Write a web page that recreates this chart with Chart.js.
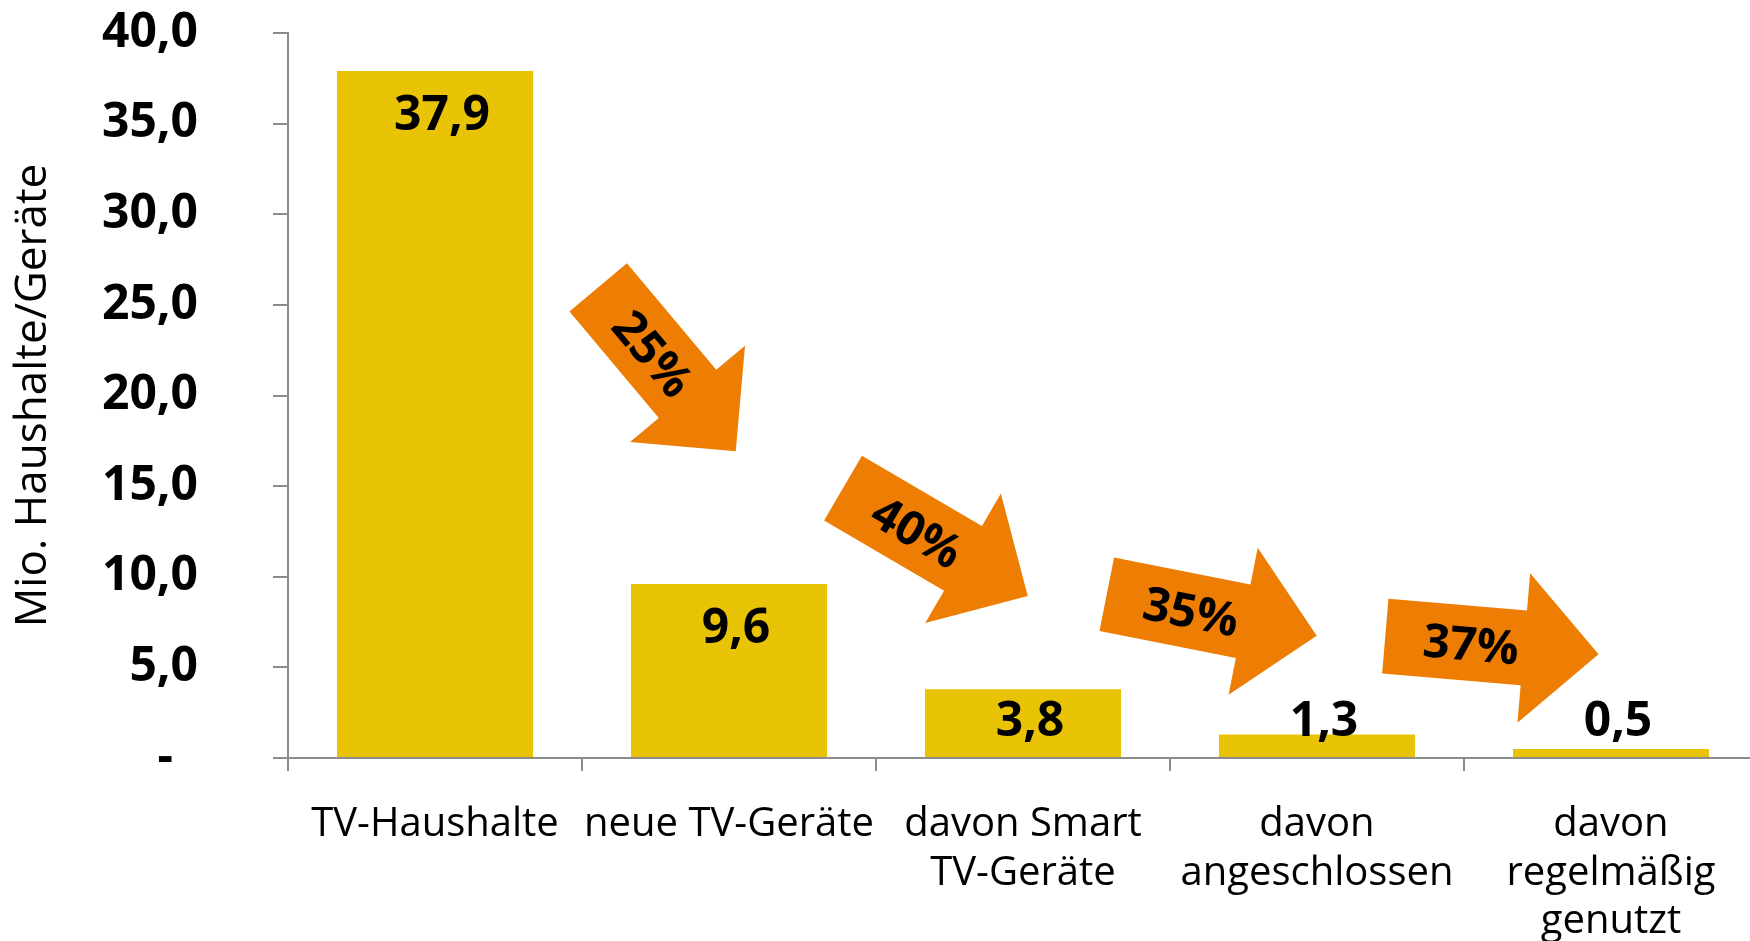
<!DOCTYPE html>
<html>
<head>
<meta charset="utf-8">
<script src="https://cdn.jsdelivr.net/npm/chart.js@4.4.1/dist/chart.umd.min.js"></script>
<style>
  html, body { margin: 0; padding: 0; background: #fff; overflow: hidden; }
  #wrap { width: 1758px; height: 941px; }
</style>
</head>
<body>
<div id="wrap"><canvas id="funnelChart"></canvas></div>
<script>
const categories = [
    ['TV-Haushalte'],
    ['neue TV-Geräte'],
    ['davon Smart', 'TV-Geräte'],
    ['davon', 'angeschlossen'],
    ['davon', 'regelmäßig', 'genutzt']
];
const values = [37.9, 9.6, 3.8, 1.3, 0.5];
const valueLabels = ['37,9', '9,6', '3,8', '1,3', '0,5'];
const yTickLabels = ['-  ', '5,0', '10,0', '15,0', '20,0', '25,0', '30,0', '35,0', '40,0'];
const shareLabels = ['25%', '40%', '35%', '37%'];

// where the orange arrows sit (x as category index, y in axis units) and their tilt
const arrowSpots = [
    { x: 0.789, y: 21.44, angle: 50.0 },
    { x: 1.702, y: 11.91, angle: 30.3 },
    { x: 2.642, y: 7.89, angle: 11.2 },
    { x: 3.595, y: 6.22, angle: 4.85 }
];

const FONT = '"Open Sans", "Noto Sans", sans-serif';

const barLabels = {
    id: 'barLabels',
    afterDatasetsDraw(chart) {
        const ctx = chart.ctx;
        const meta = chart.getDatasetMeta(0);
        ctx.save();
        ctx.font = 'bold 48px ' + FONT;
        ctx.fillStyle = '#000';
        ctx.textAlign = 'center';
        ctx.textBaseline = 'alphabetic';
        meta.data.forEach((bar, i) => {
            const y = Math.min(bar.y + 59, 736);
            ctx.fillText(valueLabels[i], bar.x + 7, y);
        });
        ctx.restore();
    }
};

const shareArrows = {
    id: 'shareArrows',
    afterDatasetsDraw(chart) {
        const ctx = chart.ctx;
        const xs = chart.scales.x;
        const ys = chart.scales.y;
        const half = 107, head = 75, shaft = 37.5, wing = 75;
        ctx.save();
        arrowSpots.forEach((a, i) => {
            const cx = xs.getPixelForValue(a.x);
            const cy = ys.getPixelForValue(a.y);
            ctx.save();
            ctx.translate(cx, cy);
            ctx.rotate(a.angle * Math.PI / 180);
            ctx.beginPath();
            ctx.moveTo(-half, -shaft);
            ctx.lineTo(half - head, -shaft);
            ctx.lineTo(half - head, -wing);
            ctx.lineTo(half, 0);
            ctx.lineTo(half - head, wing);
            ctx.lineTo(half - head, shaft);
            ctx.lineTo(-half, shaft);
            ctx.closePath();
            ctx.fillStyle = '#EE7D03';
            ctx.fill();
            ctx.font = 'bold 47px ' + FONT;
            ctx.fillStyle = '#000';
            ctx.textAlign = 'center';
            ctx.textBaseline = 'alphabetic';
            ctx.fillText(shareLabels[i], -21, 17);
            ctx.restore();
        });
        ctx.restore();
    }
};

new Chart(document.getElementById('funnelChart'), {
    type: 'bar',
    data: {
        labels: categories,
        datasets: [{
            data: values,
            backgroundColor: '#E9C406',
            barPercentage: 0.667,
            categoryPercentage: 1.0
        }]
    },
    options: {
        responsive: true,
        maintainAspectRatio: false,
        animation: false,
        layout: { padding: { top: 33, right: 0, bottom: 0, left: 0 } },
        scales: {
            y: {
                min: 0,
                max: 40,
                ticks: {
                    stepSize: 5,
                    color: '#000',
                    padding: 75,
                    font: { family: FONT, size: 48, weight: 'bold' },
                    callback: (v) => yTickLabels[Math.round(v / 5)]
                },
                grid: {
                    drawOnChartArea: false,
                    drawTicks: true,
                    tickLength: 15,
                    color: '#8C8C8C',
                    lineWidth: 2
                },
                border: { color: '#8C8C8C', width: 2 },
                title: {
                    display: true,
                    text: 'Mio. Haushalte/Geräte',
                    color: '#000',
                    font: { family: FONT, size: 44 },
                    padding: { top: 7, bottom: 0 }
                },
                afterFit: (scale) => {
                    scale.width = 288;
                    scale.paddingTop = 0;
                    scale.paddingBottom = 0;
                }
            },
            x: {
                ticks: {
                    color: '#000',
                    autoSkip: false,
                    maxRotation: 0,
                    padding: 29,
                    font: { family: FONT, size: 40, lineHeight: 1.22 }
                },
                grid: {
                    drawOnChartArea: false,
                    drawTicks: true,
                    tickLength: 13,
                    color: '#8C8C8C',
                    lineWidth: 2
                },
                border: { color: '#8C8C8C', width: 2 },
                afterFit: (scale) => { scale.height = 183; }
            }
        },
        plugins: {
            legend: { display: false },
            tooltip: { enabled: false }
        }
    },
    plugins: [barLabels, shareArrows]
});
</script>
</body>
</html>
